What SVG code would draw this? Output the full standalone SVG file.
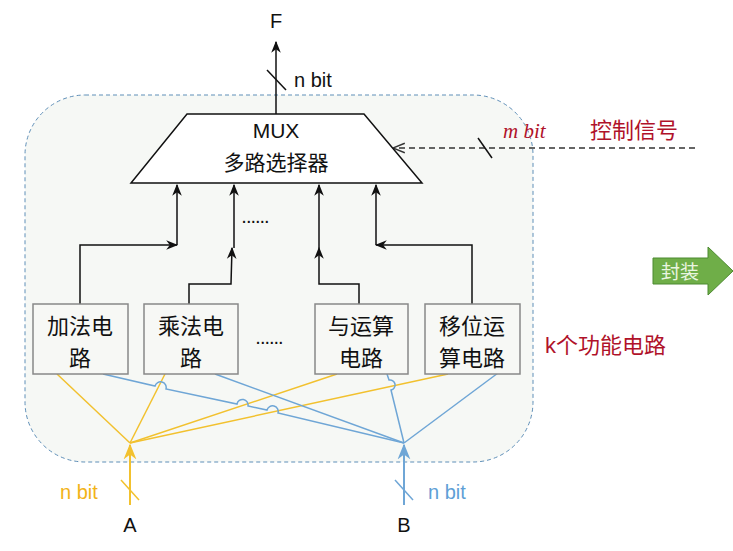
<svg xmlns="http://www.w3.org/2000/svg" width="733" height="551" viewBox="0 0 733 551">
<defs>
<style>
.t{font-family:"Liberation Sans","Noto Sans CJK SC",sans-serif;fill:#111}
.box{fill:#f7f8f5;stroke:#888;stroke-width:1.5}
.k{stroke:#111;stroke-width:1.5;fill:none}
.y{stroke:#f2c12e;stroke-width:1.5;fill:none}
.b{stroke:#6fa6d6;stroke-width:1.5;fill:none}
</style>
<marker id="ah" viewBox="0 0 10 10" refX="9" refY="5" markerWidth="8" markerHeight="10" orient="auto"><path d="M0,1 L10,5 L0,9 L3,5 z" fill="#111"/></marker>
<marker id="ay" viewBox="0 0 10 10" refX="9" refY="5" markerWidth="8" markerHeight="10" orient="auto"><path d="M0,1 L10,5 L0,9 L3,5 z" fill="#f2c12e"/></marker>
<marker id="ab" viewBox="0 0 10 10" refX="9" refY="5" markerWidth="8" markerHeight="10" orient="auto"><path d="M0,1 L10,5 L0,9 L3,5 z" fill="#6fa6d6"/></marker>
<marker id="ao" viewBox="0 0 10 10" refX="9" refY="5" markerWidth="8" markerHeight="10" orient="auto"><path d="M0,1 L10,5 L0,9" fill="none" stroke="#333" stroke-width="1.2"/></marker>
</defs>
<rect width="733" height="551" fill="#fff"/>
<rect x="25" y="95" width="508" height="367" rx="60" fill="#f6f8f5" stroke="#5f8fb8" stroke-dasharray="4,3"/>
<g id="connectors">
<line class="k" x1="276" y1="114" x2="276" y2="42" marker-end="url(#ah)"/>
<line class="k" x1="267" y1="70" x2="286" y2="90"/>
<path class="k" d="M80 304 V245 H177" marker-end="url(#ah)"/>
<line class="k" x1="177" y1="245" x2="177" y2="185" marker-end="url(#ah)"/>
<path class="k" d="M189 304 V284 H231 L232 248" marker-end="url(#ah)"/>
<line class="k" x1="234" y1="248" x2="234" y2="185" marker-end="url(#ah)"/>
<path class="k" d="M359 304 V284 H319 V248" marker-end="url(#ah)"/>
<line class="k" x1="319" y1="248" x2="319" y2="185" marker-end="url(#ah)"/>
<path class="k" d="M472 304 V245 H376" marker-end="url(#ah)"/>
<line class="k" x1="376" y1="245" x2="376" y2="185" marker-end="url(#ah)"/>
<line x1="695" y1="148" x2="394" y2="148" stroke="#333" stroke-width="1.5" stroke-dasharray="6,4" marker-end="url(#ao)"/>
<line class="k" x1="478" y1="138" x2="492" y2="158"/>
<line class="y" x1="130" y1="443" x2="57" y2="374"/>
<line class="y" x1="130" y1="443" x2="165" y2="374"/>
<line class="y" x1="130" y1="443" x2="337" y2="374"/>
<line class="y" x1="130" y1="443" x2="448" y2="374"/>
<path class="b" d="M103 374 L155 386 A5.5 5.5 0 0 1 166 389 L237 404 A5.5 5.5 0 0 1 248 406 L267 410 A5.5 5.5 0 0 1 278 413 L404 443"/>
<line class="b" x1="215" y1="374" x2="404" y2="443"/>
<path class="b" d="M387 374 L389 380 A5 5 0 0 1 391 390 L404 443"/>
<line class="b" x1="498" y1="373" x2="404" y2="443"/>
<line x1="130" y1="505" x2="130" y2="445" stroke="#f2c12e" stroke-width="2" marker-end="url(#ay)"/>
<line class="y" x1="121" y1="480" x2="139" y2="500"/>
<line x1="404" y1="505" x2="404" y2="445" stroke="#6fa6d6" stroke-width="2" marker-end="url(#ab)"/>
<line class="b" x1="395" y1="480" x2="413" y2="500"/>
</g>
<g id="mux">
<path d="M187 114 H364 L422 183 H131 Z" fill="#fff" stroke="#111" stroke-width="1.5"/>
<text class="t" x="276" y="138" font-size="21" text-anchor="middle">MUX</text>
<text class="t" x="276" y="170" font-size="21" text-anchor="middle">多路选择器</text>
</g>
<g id="box1"><rect class="box" x="33" y="304" width="95" height="70"/>
<text class="t" x="80" y="334" font-size="22" text-anchor="middle">加法电</text><text class="t" x="80" y="366" font-size="22" text-anchor="middle">路</text></g>
<g id="box2"><rect class="box" x="144" y="304" width="94" height="70"/>
<text class="t" x="191" y="334" font-size="22" text-anchor="middle">乘法电</text><text class="t" x="191" y="366" font-size="22" text-anchor="middle">路</text></g>
<g id="box3"><rect class="box" x="315" y="304" width="93" height="70"/>
<text class="t" x="361" y="334" font-size="22" text-anchor="middle">与运算</text><text class="t" x="361" y="366" font-size="22" text-anchor="middle">电路</text></g>
<g id="box4"><rect class="box" x="425" y="304" width="95" height="70"/>
<text class="t" x="472" y="334" font-size="22" text-anchor="middle">移位运</text><text class="t" x="472" y="366" font-size="22" text-anchor="middle">算电路</text></g>
<g id="labels">
<text class="t" x="276" y="28" font-size="20" text-anchor="middle">F</text>
<text class="t" x="294" y="87" font-size="20">n bit</text>
<text class="t" x="255" y="223" font-size="20" text-anchor="middle" letter-spacing="-1">......</text>
<text class="t" x="269" y="344" font-size="20" text-anchor="middle" letter-spacing="-1">......</text>
<text x="503" y="138" font-size="21" font-style="italic" fill="#b0122a" font-family="Liberation Serif,serif">m bit</text>
<text x="590" y="138" font-size="22" fill="#b0122a" font-family="Liberation Sans,Noto Sans CJK SC,sans-serif">控制信号</text>
<text x="545" y="353" font-size="22" fill="#b0122a" font-family="Liberation Sans,Noto Sans CJK SC,sans-serif">k个功能电路</text>
<text x="60" y="499" font-size="20" fill="#f2b318" font-family="Liberation Sans,sans-serif">n bit</text>
<text x="428" y="499" font-size="20" fill="#5f9fd6" font-family="Liberation Sans,sans-serif">n bit</text>
<text class="t" x="130" y="532" font-size="20" text-anchor="middle">A</text>
<text class="t" x="404" y="532" font-size="20" text-anchor="middle">B</text>
</g>
<g id="fengzhuang">
<path d="M653 258 H708 V247 L733 271 L708 295 V284 H653 Z" fill="#6fae48" stroke="#4d8a30"/>
<text x="680" y="279" font-size="19" fill="#eaf5e0" text-anchor="middle" font-family="Noto Sans CJK SC,sans-serif">封装</text>
</g>
</svg>
